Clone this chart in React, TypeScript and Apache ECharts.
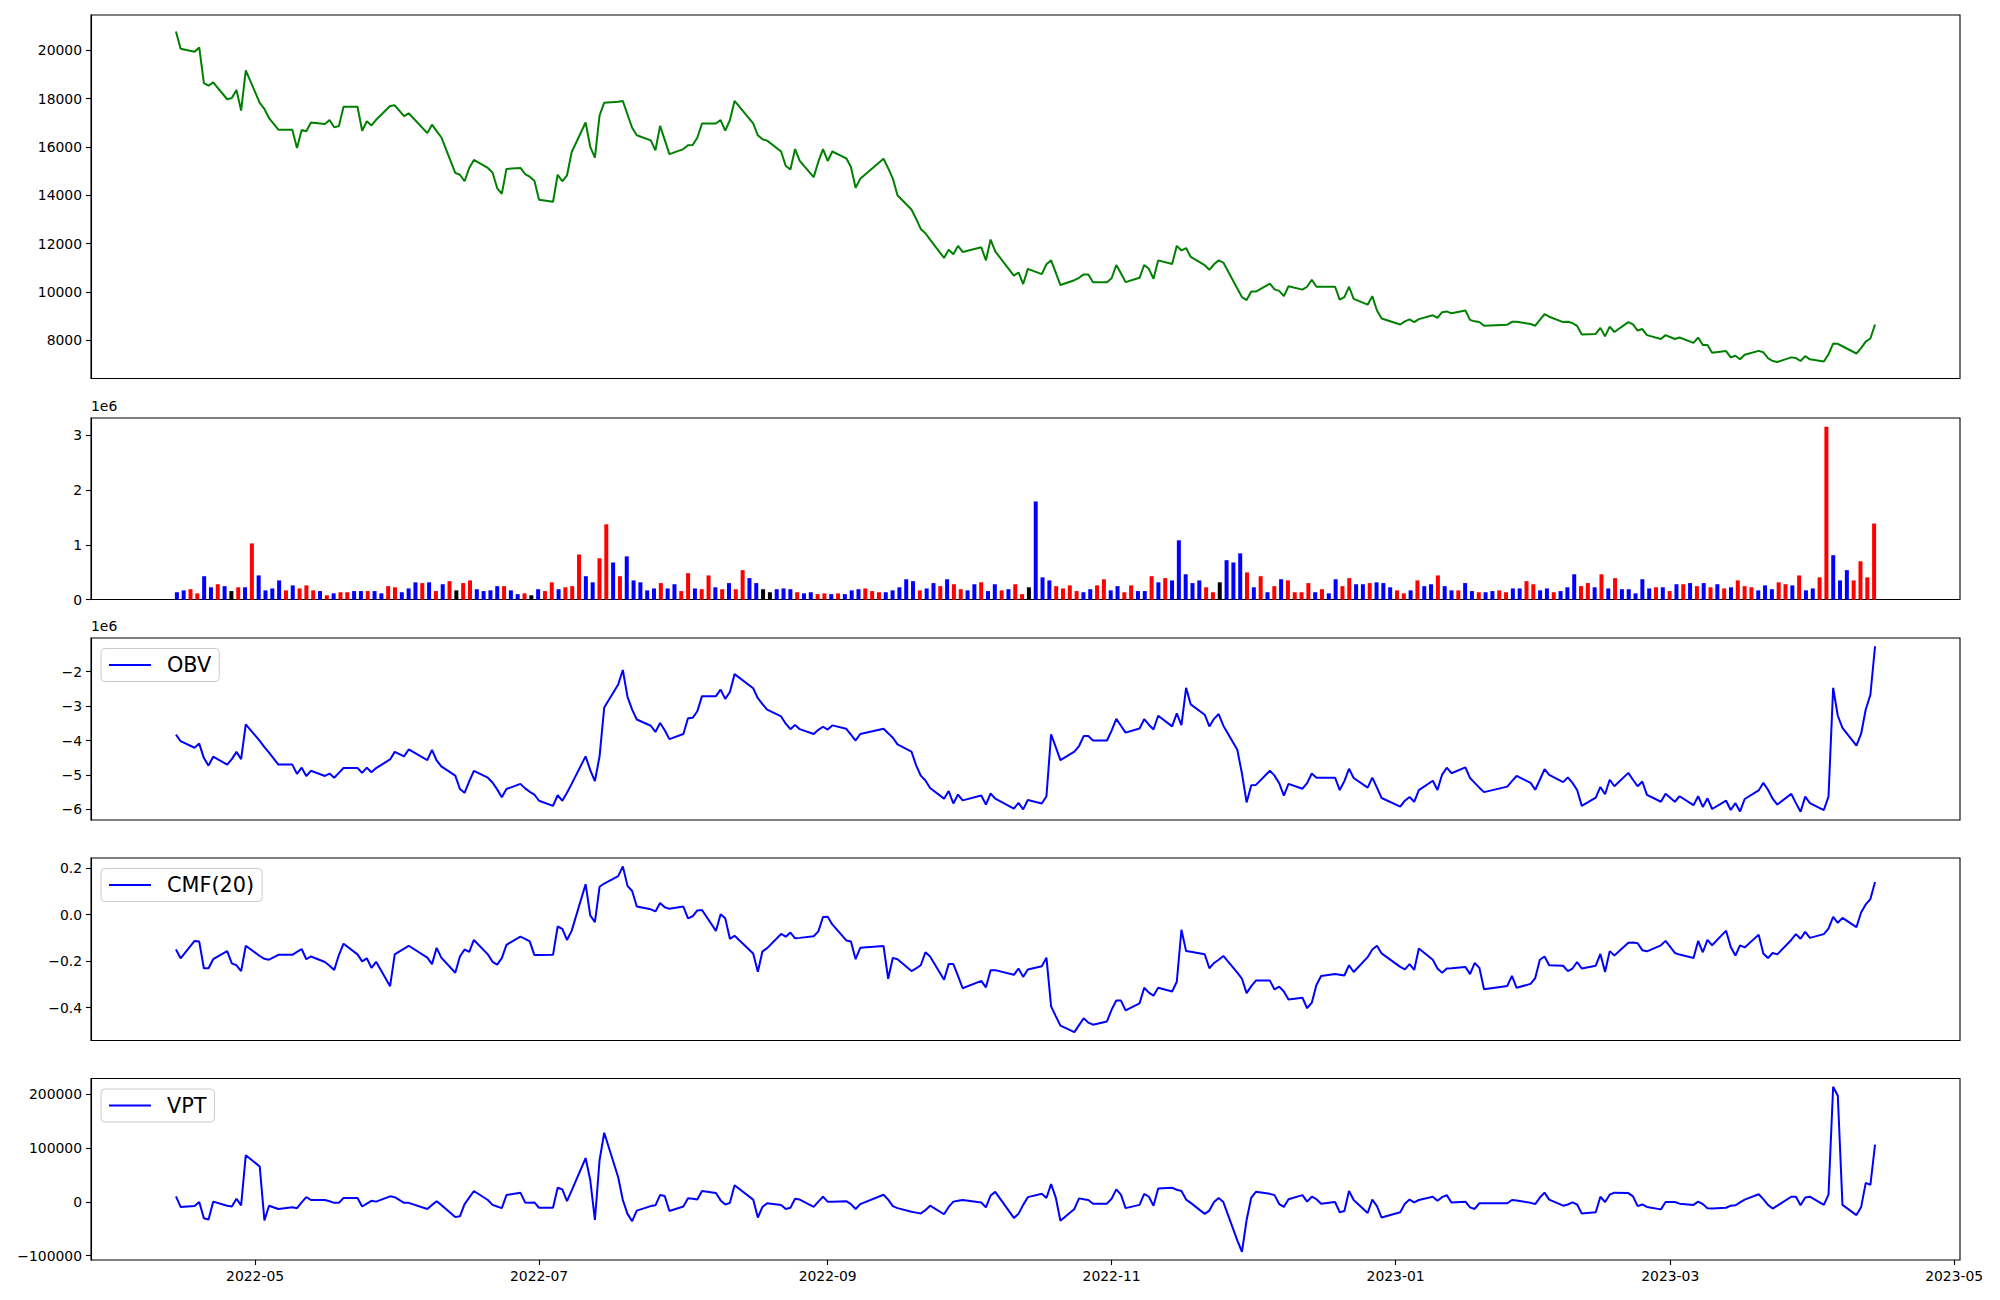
import React, { useEffect, useRef } from 'react';
import * as echarts from 'echarts';

// ---------- categories (trading calendar) ----------
const START_DATE = '2022-04-14';
const END_DATE = '2023-04-14';
const HOLIDAYS = [
  '2022-05-05', '2022-06-01', '2022-06-06', '2022-08-15', '2022-09-09', '2022-09-12',
  '2022-10-03', '2022-10-10', '2022-12-30', '2023-01-23', '2023-01-24', '2023-03-01',
];

// ---------- tick labels ----------
const X_TICKS = ['2022-05-01', '2022-07-01', '2022-09-01', '2022-11-01', '2023-01-01', '2023-03-01', '2023-05-01'];
const X_TICK_LABELS = ['2022-05', '2022-07', '2022-09', '2022-11', '2023-01', '2023-03', '2023-05'];
const PRICE_TICKS = [8000, 10000, 12000, 14000, 16000, 18000, 20000];
const VOLUME_TICKS = [0, 1, 2, 3];
const OBV_TICKS = [-6, -5, -4, -3, -2];
const CMF_TICKS = [-0.4, -0.2, 0, 0.2];
const VPT_TICKS = [-100000, 0, 100000, 200000];

// ---------- series values (one row per week) ----------
const close = [
  20770, 20060,
  19930, 20110, 18640, 18530, 18670,
  17970, 18020, 18350, 17500, 19160,
  17820, 17570, 17190, 16710,
  16710, 15950, 16700, 16650, 17010,
  16950, 17110, 16810, 16860, 17660,
  17660, 16670, 17060, 16890, 17120,
  17690, 17720, 17270, 17390,
  16570, 16920, 16650, 16400,
  14930, 14850, 14580, 15130, 15460,
  15130, 14940, 14300, 14060, 15090,
  15130, 14880, 14770, 14600, 13820,
  13730, 14850, 14580, 14820, 15780,
  17010, 16000, 15560, 17300, 17830,
  17870, 17900, 17340, 16790, 16480,
  16270, 15860, 16870, 16290, 15700,
  15910, 16070, 16080, 16380, 16970,
  16970, 17110, 16670, 17110, 17900,
  16970, 16480, 16320, 16260,
  15810, 15210, 15070, 15910, 15420,
  14750, 15390, 15910, 15420, 15810,
  15530, 15170, 14310, 14680,
  15510, 15120, 14690, 14000,
  13410, 13030, 12610, 12430, 12170,
  11410, 11750, 11560, 11910, 11660,
  11850, 11310, 12170, 11680,
  10680, 10810, 10330, 10960,
  10740, 11150, 11310, 10800, 10290,
  10490, 10590, 10730, 10730, 10410,
  10410, 10570, 11120, 10780, 10410,
  10590, 11120, 10960, 10550, 11310,
  11160, 11910, 11720, 11820, 11450,
  11110, 10920, 11150, 11310, 11220,
  10150, 9790, 9670, 10020, 10020,
  10350, 10110, 10050, 9830, 10240,
  10100, 10220, 10510, 10220, 10220,
  10220, 9690, 9790, 10220, 9720,
  9480, 9830, 9240, 8910,
  8660, 8790, 8870, 8760, 8880,
  9040, 8930, 9170, 9200, 9120,
  9240, 8850, 8790, 8760, 8610,
  8650, 8770, 8770,
  8680, 8610, 8850, 9090, 8980,
  8760, 8770, 8720, 8600, 8250,
  8270, 8520, 8170, 8570, 8350,
  8760, 8660, 8410, 8470, 8220,
  8060, 8220, 8060, 8120,
  7900, 8120, 7810, 7810, 7490,
  7560, 7300, 7370, 7220, 7410,
  7570, 7510, 7270, 7150, 7110,
  7300, 7270, 7150, 7350, 7220,
  7130, 7430, 7870, 7860, 7760,
  7460, 7680, 7950, 8080, 8660,
];

// volume in millions (uniformly spaced bars)
const volumeM = [
  0.133, 0.167, 0.188, 0.112, 0.426, 0.223, 0.279, 0.244, 0.154, 0.223,
  0.223, 1.026, 0.44, 0.167, 0.202, 0.349, 0.167, 0.258, 0.202, 0.258,
  0.167, 0.154, 0.077, 0.112, 0.133, 0.133, 0.154, 0.154, 0.154, 0.154,
  0.112, 0.244, 0.223, 0.133, 0.202, 0.314, 0.3, 0.314, 0.154, 0.279,
  0.335, 0.167,
  0.3, 0.349, 0.188, 0.154, 0.167, 0.244, 0.244, 0.167, 0.098, 0.112,
  0.077, 0.188, 0.154, 0.314, 0.188, 0.223, 0.244, 0.823, 0.426, 0.314,
  0.754, 1.375, 0.677, 0.426, 0.789, 0.349, 0.314, 0.167, 0.202, 0.3,
  0.202, 0.279, 0.154, 0.482, 0.202, 0.188, 0.44, 0.223, 0.188, 0.3,
  0.188, 0.537, 0.391,
  0.3, 0.188, 0.133, 0.188, 0.202, 0.188, 0.133, 0.112, 0.133, 0.098,
  0.112, 0.098, 0.112, 0.098, 0.167, 0.188, 0.202, 0.154, 0.133, 0.133,
  0.167, 0.223, 0.37, 0.335, 0.167, 0.202, 0.3, 0.244, 0.37, 0.279,
  0.188, 0.167, 0.279, 0.314, 0.154, 0.279, 0.167, 0.188, 0.279, 0.098,
  0.223, 1.793,
  0.405, 0.349, 0.244, 0.202, 0.258, 0.154, 0.133, 0.188, 0.258, 0.37,
  0.167, 0.244, 0.133, 0.258, 0.154, 0.154, 0.426, 0.314, 0.391, 0.349,
  1.082, 0.461, 0.3, 0.349, 0.223, 0.133, 0.314, 0.719, 0.677, 0.844,
  0.495, 0.223, 0.426, 0.133, 0.244, 0.37, 0.349, 0.133, 0.133, 0.3,
  0.133, 0.188, 0.112,
  0.37, 0.244, 0.391, 0.279, 0.279, 0.3, 0.314, 0.3, 0.223, 0.167,
  0.112, 0.167, 0.349, 0.244, 0.279, 0.44, 0.244, 0.167, 0.167, 0.3,
  0.154, 0.133, 0.133, 0.154, 0.167, 0.133, 0.202, 0.202, 0.335, 0.279,
  0.167, 0.202, 0.133, 0.154, 0.223, 0.461, 0.244, 0.3, 0.223, 0.461,
  0.202, 0.391,
  0.188, 0.188, 0.112, 0.37, 0.202, 0.223, 0.223, 0.154, 0.279, 0.279,
  0.3, 0.244, 0.3, 0.223, 0.279, 0.202, 0.223, 0.349, 0.244, 0.223,
  0.167, 0.258, 0.188, 0.314, 0.279, 0.258, 0.44, 0.167, 0.202, 0.405,
  3.161, 0.81, 0.349, 0.537, 0.349, 0.698, 0.405, 1.389,
];

// bar direction: R = up (red), B = down (blue), K = unchanged (black)
const volumeDirection =
  'BBRRBBRBKR' + 'BRBBBBRBRR' + 'RBRBRRBBRB' + 'BRRBBBRBRB' + 'RK' +
  'RRBBBBRBBR' + 'KBRRBRRRBB' + 'RRBRBBBBBR' + 'BBRRBRRBRB' + 'RRB' +
  'BKKBBBRBBR' + 'RBRBBBRRRB' + 'BBBBRBBRBR' + 'RBBRBBRBRR' + 'KB' +
  'BBRRRRBBRR' + 'BBRRBBRBRB' + 'BBBBRRKBBB' + 'RBRBRBRRRR' + 'BRB' +
  'BRRBBRBBBR' + 'RBRBBRBBRB' + 'BRBBRRBBRR' + 'BBRBBBRRBR' + 'BR' +
  'BBBBBRBRBR' + 'BRBRBRBRRR' + 'BBBRRBRBBR' + 'RBBBRRRR';

// OBV in millions
const obvM = [
  -3.83, -4.02,
  -4.21, -4.09, -4.51, -4.73, -4.47,
  -4.70, -4.54, -4.33, -4.54, -3.53,
  -4.01, -4.19, -4.35, -4.70,
  -4.70, -4.97, -4.79, -5.03, -4.88,
  -5.03, -4.96, -5.08, -4.94, -4.80,
  -4.80, -4.94, -4.79, -4.92, -4.80,
  -4.55, -4.33, -4.46, -4.26,
  -4.57, -4.27, -4.58, -4.75,
  -5.02, -5.41, -5.52, -5.19, -4.88,
  -5.08, -5.22, -5.42, -5.65, -5.41,
  -5.26, -5.39, -5.49, -5.57, -5.75,
  -5.90, -5.59, -5.75, -5.52, -5.26,
  -4.46, -4.86, -5.18, -4.46, -3.04,
  -2.37, -1.95, -2.73, -3.10, -3.39,
  -3.57, -3.75, -3.49, -3.70, -3.96,
  -3.81, -3.35, -3.34, -3.15, -2.71,
  -2.71, -2.52, -2.79, -2.59, -2.07,
  -2.48, -2.77, -2.94, -3.10,
  -3.30, -3.51, -3.67, -3.55, -3.67,
  -3.81, -3.69, -3.60, -3.68, -3.56,
  -3.66, -3.83, -4.00, -3.81,
  -3.66, -3.79, -3.92, -4.11,
  -4.32, -4.72, -5.02, -5.16, -5.38,
  -5.69, -5.47, -5.83, -5.57, -5.74,
  -5.60, -5.86, -5.54, -5.69,
  -5.98, -5.81, -6.00, -5.73,
  -5.83, -5.62, -3.82, -4.19, -4.57,
  -4.32, -4.16, -3.87, -3.87, -4.00,
  -4.00, -3.71, -3.37, -3.57, -3.77,
  -3.65, -3.38, -3.54, -3.68, -3.28,
  -3.59, -3.21, -3.55, -2.47, -2.95,
  -3.25, -3.59, -3.37, -3.23, -3.57,
  -4.27, -4.96, -5.80, -5.30, -5.29,
  -4.88, -5.02, -5.24, -5.60, -5.26,
  -5.40, -5.24, -4.96, -5.08, -5.08,
  -5.08, -5.44, -5.18, -4.82, -5.09,
  -5.37, -5.08, -5.37, -5.67,
  -5.92, -5.75, -5.64, -5.78, -5.44,
  -5.17, -5.44, -4.99, -4.79, -4.95,
  -4.78, -5.09, -5.23, -5.37, -5.50,
  -5.34, -5.18, -5.03,
  -5.23, -5.43, -5.14, -4.83, -5.00,
  -5.21, -5.07, -5.23, -5.44, -5.90,
  -5.66, -5.35, -5.56, -5.14, -5.33,
  -4.94, -5.14, -5.33, -5.19, -5.58,
  -5.78, -5.55, -5.78, -5.62,
  -5.88, -5.62, -5.93, -5.68, -5.99,
  -5.75, -6.02, -5.82, -6.06, -5.70,
  -5.45, -5.23, -5.43, -5.69, -5.86,
  -5.55, -5.82, -6.07, -5.63, -5.82,
  -6.02, -5.63, -2.47, -3.28, -3.63,
  -4.15, -3.81, -3.10, -2.67, -1.26,
];

const cmf20 = [
  -0.150, -0.188,
  -0.113, -0.116, -0.231, -0.231, -0.192,
  -0.157, -0.210, -0.218, -0.243, -0.134,
  -0.178, -0.190, -0.194, -0.173,
  -0.173, -0.160, -0.148, -0.192, -0.180,
  -0.204, -0.220, -0.238, -0.174, -0.125,
  -0.171, -0.201, -0.188, -0.229, -0.203,
  -0.308, -0.171, -0.146, -0.134,
  -0.185, -0.213, -0.143, -0.185,
  -0.250, -0.180, -0.150, -0.160, -0.109,
  -0.171, -0.203, -0.215, -0.187, -0.130,
  -0.095, -0.104, -0.115, -0.174, -0.174,
  -0.173, -0.051, -0.061, -0.109, -0.070,
  0.131, -0.003, -0.032, 0.120, 0.134,
  0.166, 0.208, 0.124, 0.102, 0.035,
  0.023, 0.014, 0.050, 0.032, 0.025,
  0.035, -0.016, -0.007, 0.018, 0.020,
  -0.070, 0.002, -0.016, -0.104, -0.091,
  -0.167, -0.246, -0.158, -0.144,
  -0.083, -0.095, -0.077, -0.102, -0.100,
  -0.093, -0.072, -0.010, -0.009, -0.042,
  -0.111, -0.116, -0.192, -0.143,
  -0.135, -0.276, -0.186, -0.192,
  -0.243, -0.231, -0.218, -0.162, -0.180,
  -0.280, -0.213, -0.213, -0.264, -0.317,
  -0.285, -0.313, -0.239, -0.239,
  -0.259, -0.232, -0.268, -0.236,
  -0.222, -0.185, -0.395, -0.437, -0.478,
  -0.506, -0.476, -0.446, -0.465, -0.474,
  -0.460, -0.409, -0.370, -0.370, -0.412,
  -0.382, -0.315, -0.336, -0.349, -0.315,
  -0.331, -0.289, -0.065, -0.157, -0.160,
  -0.171, -0.231, -0.208, -0.194, -0.178,
  -0.250, -0.276, -0.338, -0.308, -0.284,
  -0.284, -0.322, -0.310, -0.331, -0.365,
  -0.358, -0.403, -0.379, -0.303, -0.264,
  -0.256, -0.259, -0.262, -0.218, -0.247,
  -0.183, -0.150, -0.134, -0.167,
  -0.225, -0.236, -0.213, -0.238, -0.146,
  -0.194, -0.232, -0.250, -0.232, -0.231,
  -0.225, -0.256, -0.208, -0.229, -0.321,
  -0.307, -0.264, -0.315,
  -0.298, -0.273, -0.194, -0.180, -0.218,
  -0.220, -0.243, -0.232, -0.204, -0.232,
  -0.220, -0.169, -0.247, -0.157, -0.176,
  -0.121, -0.120, -0.123, -0.153, -0.158,
  -0.132, -0.113, -0.165, -0.172,
  -0.187, -0.113, -0.162, -0.109, -0.132,
  -0.069, -0.139, -0.176, -0.132, -0.141,
  -0.086, -0.167, -0.187, -0.165, -0.171,
  -0.109, -0.084, -0.104, -0.074, -0.100,
  -0.084, -0.060, -0.010, -0.035, -0.014,
  -0.054, 0.009, 0.044, 0.067, 0.141,
];

const vpt = [
  10129, -9524,
  -8013, -454, -30689, -32957, 302,
  -7257, -8769, 5594, -6652, 86476,
  65310, -34469, -7257, -13304,
  -10281, -11793, -1209, 8617, 3326,
  3326, 1058, -1965, -1965, 7105,
  7105, -8769, -3477, 1814, 302,
  10129, 8617, -1965, -1965,
  -13304, -5744, 1058, -5744,
  -28422, -26910, -4233, 7861, 19956,
  3326, -5744, -8769, -11793, 12397,
  16933, -1209, -1965, -1209, -11037,
  -11037, 26003, 22979, 1058, 20712,
  81184, 40365, -33713, 77405, 128050,
  45656, 3326, -22374, -35981, -16327,
  -8013, -6501, 12397, 10885, -17083,
  -8769, 6349, 5594, 4082, 19956,
  16177, 2570, -4989, -1965, 30538,
  4082, -29178, -9524, -2721,
  -5744, -13304, -11037, 5594, 4082,
  -9524, 302, 9373, 302, 302,
  1058, -4233, -13304, -4233,
  13153, 4082, -8013, -11793,
  -18596, -20108, -21619, -15572, -7257,
  -23131, -9524, 302, 1814, 3326,
  -1209, -10281, 11641, 18444,
  -29934, -22374, -5744, 8617,
  14739, 7105, 32806, 7861, -35225,
  -13304, 6349, 4838, 3326, -3477,
  -3477, 5594, 22979, 13153, -11793,
  -5744, 14739, 9373, -7257, 24491,
  26003, 22223, 19956, 4082, -1965,
  -22374, -16327, -454, 7105, -454,
  -71508, -92673, -33713, 7861, 18444,
  14739, 12397, -4233, -9524, 4838,
  12397, 302, 9373, 4838, -3477,
  -454, -19352, -17083, 19956, 3326,
  -20864, 4082, -8013, -29178,
  -19352, -3477, 4082, -1209, 3326,
  9373, 1814, 8617, 12397, -1209,
  302, -10281, -13304, -2721, -2721,
  -2721, 3326, 2570,
  -1965, -4233, 7861, 16933, 4082,
  -7257, -4989, -1209, -4989, -21619,
  -19352, 9373, -454, 13153, 16933,
  16177, 10129, -8013, -4989, -9524,
  -14060, -454, -454, -3477,
  -5744, 302, -4233, -11793, -12548,
  -11037, -7257, -6501, -1209, 4082,
  13909, 4838, -5744, -12548, -7257,
  9373, 9373, -6501, 7861, 9373,
  -5744, 13153, 213391, 196761, -5744,
  -24642, -10281, 35074, 31294, 106129,
];

// ---------- styling / layout ----------
const FONT = 'DejaVu Sans';
const TICK_FONT = 13.9;
const LEGEND_FONT = 20.8;
const LEFT = 91;
const RIGHT = 40;
const PANELS = [
  { top: 15, height: 363.5 },
  { top: 418, height: 181.5 },
  { top: 638, height: 182 },
  { top: 858, height: 182.5 },
  { top: 1078.5, height: 181.5 },
];
const DIR_COLORS: Record<string, string> = { R: '#ff0000', B: '#0000ff', K: '#000000' };

function tradingDays(): number[] {
  const hol = new Set(HOLIDAYS);
  const out: number[] = [];
  let t = Date.parse(START_DATE + 'T00:00:00Z');
  const end = Date.parse(END_DATE + 'T00:00:00Z');
  while (t <= end) {
    const d = new Date(t);
    const wd = d.getUTCDay();
    const iso = d.toISOString().slice(0, 10);
    if (wd !== 0 && wd !== 6 && !hol.has(iso)) out.push(t);
    t += 86400000;
  }
  return out;
}

const minus = (s: string) => s.replace('-', '\u2212');

export default function App() {
  const ref = useRef<HTMLDivElement>(null);

  useEffect(() => {
    if (!ref.current) return;
    const chart = echarts.init(ref.current, undefined, { renderer: 'svg' });
    const dates = tradingDays();
    const n = Math.min(dates.length, close.length);
    const t0 = dates[0];
    const t1 = dates[n - 1];
    const span = t1 - t0;
    const xMin = t0 - 0.05 * span;
    const xMax = t1 + 0.05 * span;
    const xTickVals = X_TICKS.map((s) => Date.parse(s + 'T00:00:00Z'));

    const tickLabelStyle = { fontFamily: FONT, fontSize: TICK_FONT, color: '#000' };

    const grids = PANELS.map((p) => ({
      left: LEFT,
      right: RIGHT,
      top: p.top,
      height: p.height,
      show: true,
      borderColor: '#000',
      borderWidth: 1.1,
      containLabel: false,
      outerBoundsMode: 'none',
    }));

    const timeX = (gridIndex: number, showLabels: boolean) => ({
      type: 'value',
      gridIndex,
      min: xMin,
      max: xMax,
      position: 'bottom',
      splitLine: { show: false },
      axisLine: { show: false, onZero: false },
      axisTick: showLabels
        ? { show: true, length: 5, lineStyle: { color: '#000', width: 1.1 }, customValues: xTickVals }
        : { show: false },
      axisLabel: showLabels
        ? {
            show: true,
            margin: 9,
            customValues: xTickVals,
            ...tickLabelStyle,
            formatter: (v: number) => {
              const k = xTickVals.findIndex((tv) => Math.abs(tv - v) < 3600000);
              return k >= 0 ? X_TICK_LABELS[k] : '';
            },
          }
        : { show: false },
    });

    const yAx = (gridIndex: number, min: number, max: number, ticks: number[], fmt: (v: number) => string, name?: string) => ({
      type: 'value',
      gridIndex,
      min,
      max,
      position: 'left',
      splitLine: { show: false },
      axisLine: { show: true, onZero: false, lineStyle: { color: '#000', width: 1.1 } },
      axisTick: { show: true, length: 5, lineStyle: { color: '#000', width: 1.1 }, customValues: ticks },
      axisLabel: { show: true, margin: 9, customValues: ticks, ...tickLabelStyle, formatter: fmt },
      name: name || '',
      nameLocation: 'end',
      nameGap: 5,
      nameTextStyle: { fontFamily: FONT, fontSize: TICK_FONT, color: '#000', align: 'left', verticalAlign: 'bottom' },
    });

    const legendBase = {
      orient: 'horizontal',
      left: 101,
      icon: 'rect',
      itemWidth: 42,
      itemHeight: 2,
      padding: [6, 8, 6, 8],
      borderColor: '#cccccc',
      borderWidth: 1,
      borderRadius: 4,
      backgroundColor: 'rgba(255,255,255,0.8)',
      selectedMode: false,
      textStyle: { fontFamily: FONT, fontSize: LEGEND_FONT, color: '#000', padding: [0, 0, 0, 11] },
    };

    const lineSeries = (name: string, xi: number, values: number[], color: string) => ({
      name,
      type: 'line',
      xAxisIndex: xi,
      yAxisIndex: xi,
      showSymbol: false,
      symbol: 'none',
      lineStyle: { color, width: 2 },
      itemStyle: { color },
      data: values.slice(0, n).map((v, i) => [dates[i], v]),
      animation: false,
    });

    chart.setOption({
      animation: false,
      backgroundColor: '#ffffff',
      grid: grids,
      xAxis: [
        timeX(0, false),
        {
          type: 'value',
          gridIndex: 1,
          min: -12.6,
          max: 261.6,
          position: 'bottom',
          splitLine: { show: false },
          axisLine: { show: false, onZero: false },
          axisTick: { show: false },
          axisLabel: { show: false },
        },
        timeX(2, false),
        timeX(3, false),
        timeX(4, true),
      ],
      yAxis: [
        yAx(0, 6427, 21453, PRICE_TICKS, (v) => minus(String(v))),
        yAx(1, 0, 3.319, VOLUME_TICKS, (v) => String(v), '1e6'),
        yAx(2, -6.31, -1.02, OBV_TICKS, (v) => minus(String(v)), '1e6'),
        yAx(3, -0.542, 0.244, CMF_TICKS, (v) => minus(v.toFixed(1))),
        yAx(4, -107976, 228694, VPT_TICKS, (v) => minus(String(v))),
      ],
      legend: [
        { ...legendBase, top: 648.5, data: ['OBV'] },
        { ...legendBase, top: 868.5, data: ['CMF(20)'] },
        { ...legendBase, top: 1089, data: ['VPT'] },
      ],
      series: [
        lineSeries('Close', 0, close, '#008000'),
        {
          name: 'Volume',
          type: 'bar',
          xAxisIndex: 1,
          yAxisIndex: 1,
          barWidth: 4,
          data: volumeM.map((v, i) => ({
            value: [i, v],
            itemStyle: { color: DIR_COLORS[volumeDirection[i]] || '#000' },
          })),
          animation: false,
        },
        lineSeries('OBV', 2, obvM, '#0000ff'),
        lineSeries('CMF(20)', 3, cmf20, '#0000ff'),
        lineSeries('VPT', 4, vpt, '#0000ff'),
      ],
    });

    return () => chart.dispose();
  }, []);

  return (
    <div
      ref={ref}
      style={{ position: 'fixed', left: 0, top: 0, width: 2000, height: 1300, background: '#ffffff' }}
    />
  );
}
